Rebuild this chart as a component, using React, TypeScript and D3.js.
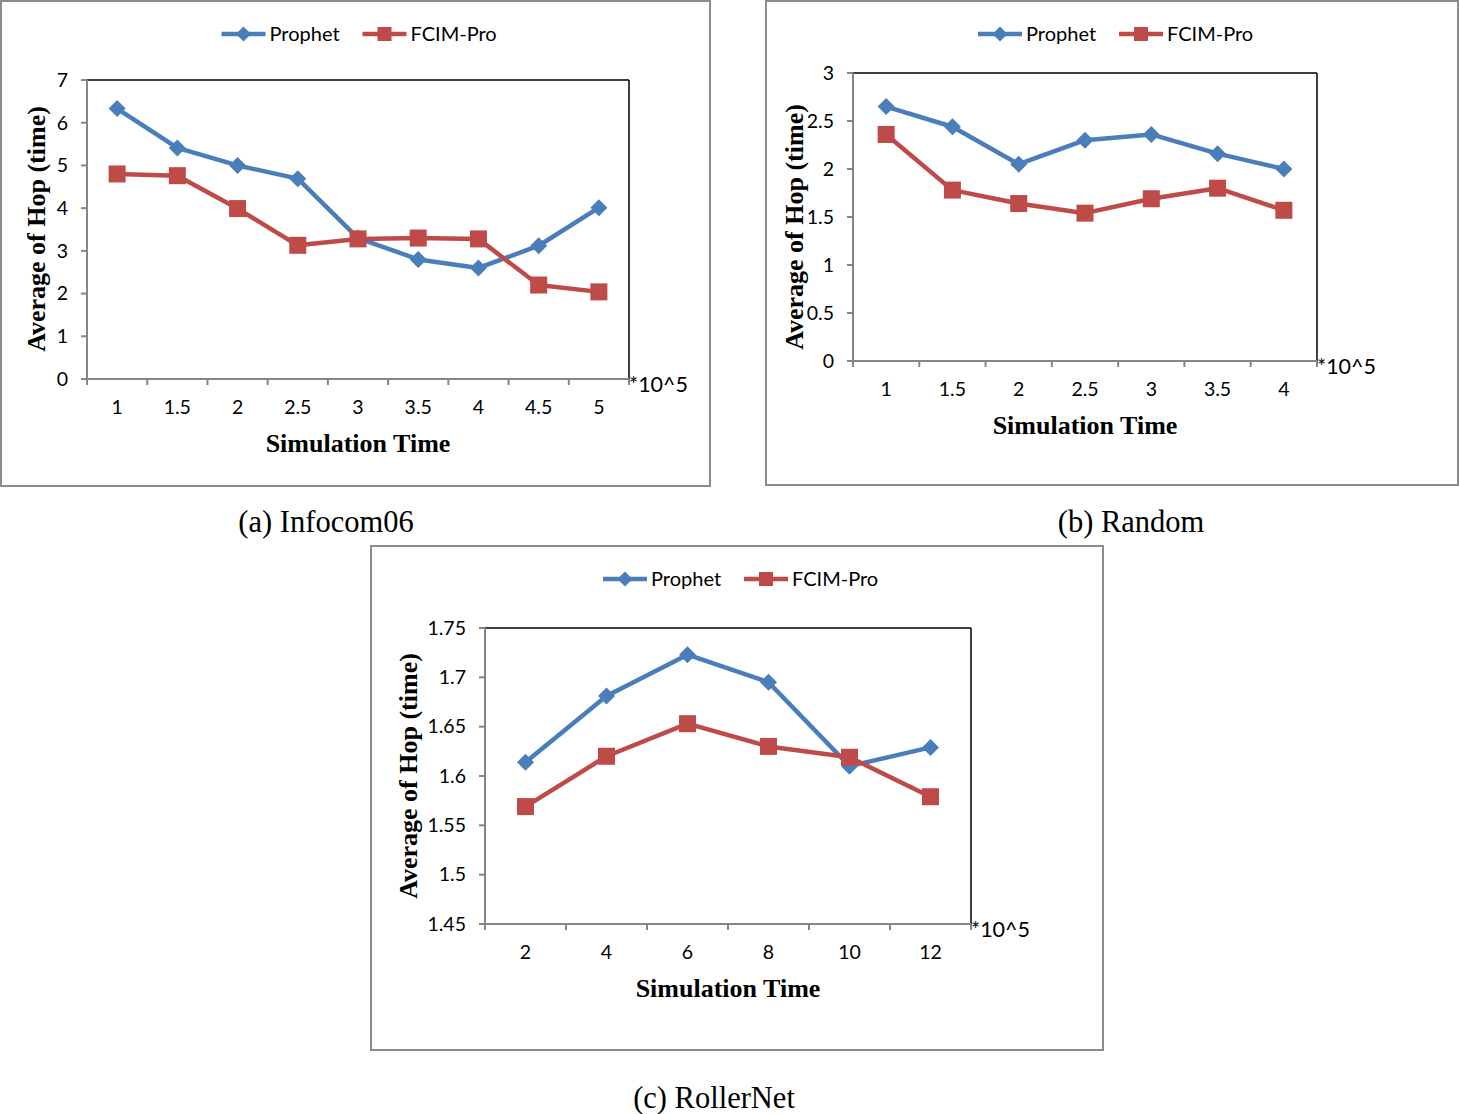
import React from "react";
import * as d3 from "d3";

// ---------- data ----------
const seriesNames = ["Prophet", "FCIM-Pro"];
const seriesColors = ["#4A7EBB", "#BE4B48"];

const catsA = ["1", "1.5", "2", "2.5", "3", "3.5", "4", "4.5", "5"];
const prophetA = [6.33, 5.41, 5.0, 4.69, 3.3, 2.8, 2.6, 3.12, 4.01];
const fcimA = [4.8, 4.76, 3.99, 3.13, 3.28, 3.3, 3.28, 2.2, 2.04];
const yTicksA = [0, 1, 2, 3, 4, 5, 6, 7];

const catsB = ["1", "1.5", "2", "2.5", "3", "3.5", "4"];
const prophetB = [2.65, 2.44, 2.05, 2.3, 2.36, 2.16, 2.0];
const fcimB = [2.36, 1.78, 1.64, 1.54, 1.69, 1.8, 1.57];
const yTicksB = [0, 0.5, 1, 1.5, 2, 2.5, 3];

const catsC = ["2", "4", "6", "8", "10", "12"];
const prophetC = [1.614, 1.681, 1.723, 1.695, 1.61, 1.629];
const fcimC = [1.569, 1.62, 1.653, 1.63, 1.619, 1.579];
const yTicksC = [1.45, 1.5, 1.55, 1.6, 1.65, 1.7, 1.75];

const captions = ["(a) Infocom06", "(b) Random", "(c) RollerNet"];
const xTitle = "Simulation Time";
const yTitle = "Average of Hop (time)";
const unitLabel = "*10^5";

const SANS = "Lato, 'Open Sans', sans-serif";
const SERIF = "'Liberation Serif', 'Times New Roman', serif";

type PanelProps = {
  box: { x: number; y: number; w: number; h: number };
  plot: { l: number; t: number; r: number; b: number };
  cats: string[];
  series: number[][];
  yDomain: [number, number];
  yTicks: number[];
  yTitleX: number;
  yTitleY: number;
  caption: string;
  captionX: number;
  captionY: number;
};

function Panel(p: PanelProps) {
  const x = d3.scaleBand<string>().domain(p.cats).range([p.plot.l, p.plot.r]);
  const y = d3.scaleLinear().domain(p.yDomain).range([p.plot.b, p.plot.t]);
  const line = d3
    .line<number>()
    .x((_, i) => (x(p.cats[i]) as number) + x.bandwidth() / 2)
    .y((d) => y(d));
  const boundaries = p.cats.map((c) => x(c) as number).concat([p.plot.r]);
  const cx = p.box.x + p.box.w / 2;
  const legY = p.box.y + 33;
  const fmt = (v: number) => String(+v.toFixed(2));
  const diamond = (px: number, py: number, s: number) =>
    `M${px},${py - s} L${px + s},${py} L${px},${py + s} L${px - s},${py} Z`;
  return (
    <g>
      <rect x={p.box.x} y={p.box.y} width={p.box.w} height={p.box.h} fill="#fff" stroke="#8c8c8c" strokeWidth={2} />
      {/* legend */}
      <g>
        <line x1={cx - 134} x2={cx - 90} y1={legY} y2={legY} stroke={seriesColors[0]} strokeWidth={4.5} />
        <path d={diamond(cx - 112, legY, 7.5)} fill={seriesColors[0]} />
        <text x={cx - 86} y={legY} dy="0.35em" fontFamily={SANS} fontSize={20} fill="#000">
          {seriesNames[0]}
        </text>
        <line x1={cx + 7} x2={cx + 51} y1={legY} y2={legY} stroke={seriesColors[1]} strokeWidth={4.5} />
        <rect x={cx + 22} y={legY - 7} width={14} height={14} fill={seriesColors[1]} />
        <text x={cx + 55} y={legY} dy="0.35em" fontFamily={SANS} fontSize={20} fill="#000">
          {seriesNames[1]}
        </text>
      </g>
      {/* plot frame top/right */}
      <line x1={p.plot.l} x2={p.plot.r} y1={p.plot.t} y2={p.plot.t} stroke="#000" strokeWidth={1.5} />
      <line x1={p.plot.r} x2={p.plot.r} y1={p.plot.t} y2={p.plot.b} stroke="#000" strokeWidth={1.5} />
      {/* y axis */}
      <line x1={p.plot.l} x2={p.plot.l} y1={p.plot.t} y2={p.plot.b} stroke="#868686" strokeWidth={2} />
      {p.yTicks.map((t) => (
        <g key={t}>
          <line x1={p.plot.l - 6} x2={p.plot.l} y1={y(t)} y2={y(t)} stroke="#868686" strokeWidth={2} />
          <text x={p.plot.l - 19} y={y(t)} dy="0.35em" textAnchor="end" fontFamily={SANS} fontSize={19.5} fill="#000">
            {fmt(t)}
          </text>
        </g>
      ))}
      {/* x axis */}
      <line x1={p.plot.l} x2={p.plot.r} y1={p.plot.b} y2={p.plot.b} stroke="#868686" strokeWidth={2} />
      {boundaries.map((bx, i) => (
        <line key={i} x1={bx} x2={bx} y1={p.plot.b} y2={p.plot.b + 6} stroke="#868686" strokeWidth={2} />
      ))}
      {p.cats.map((c) => (
        <text
          key={c}
          x={(x(c) as number) + x.bandwidth() / 2}
          y={p.plot.b + 28}
          dy="0.35em"
          textAnchor="middle"
          fontFamily={SANS}
          fontSize={19.5}
          fill="#000"
        >
          {c}
        </text>
      ))}
      <text x={p.plot.r} y={p.plot.b + 5} dy="0.35em" fontFamily={SANS} fontSize={21.5} fill="#000">
        {unitLabel}
      </text>
      <text
        x={(p.plot.l + p.plot.r) / 2}
        y={p.plot.b + 64}
        dy="0.35em"
        textAnchor="middle"
        fontFamily={SERIF}
        fontWeight="bold"
        fontSize={26}
        fill="#000"
      >
        {xTitle}
      </text>
      <text
        transform={`translate(${p.yTitleX},${p.yTitleY}) rotate(-90)`}
        dy="0.35em"
        textAnchor="middle"
        fontFamily={SERIF}
        fontWeight="bold"
        fontSize={26}
        fill="#000"
      >
        {yTitle}
      </text>
      {/* series */}
      {p.series.map((s, si) => (
        <g key={si}>
          <path d={line(s) || ""} fill="none" stroke={seriesColors[si]} strokeWidth={4.5} strokeLinejoin="round" />
          {s.map((v, i) => {
            const px = (x(p.cats[i]) as number) + x.bandwidth() / 2;
            const py = y(v);
            return si === 0 ? (
              <path key={i} d={diamond(px, py, 8.5)} fill={seriesColors[si]} />
            ) : (
              <rect key={i} x={px - 8.5} y={py - 8.5} width={17} height={17} fill={seriesColors[si]} />
            );
          })}
        </g>
      ))}
      <text x={p.captionX} y={p.captionY} dy="0.35em" textAnchor="middle" fontFamily={SERIF} fontSize={30.5} fill="#000">
        {p.caption}
      </text>
    </g>
  );
}

export default function App() {
  return (
    <svg width={1459} height={1114} style={{ display: "block", position: "absolute", left: 0, top: 0 }}>
      <rect x={0} y={0} width={1459} height={1114} fill="#fff" />
      <Panel
        box={{ x: 1, y: 1, w: 709, h: 485 }}
        plot={{ l: 87, t: 80, r: 629, b: 379 }}
        cats={catsA}
        series={[prophetA, fcimA]}
        yDomain={[0, 7]}
        yTicks={yTicksA}
        yTitleX={36}
        yTitleY={229}
        caption={captions[0]}
        captionX={326}
        captionY={521}
      />
      <Panel
        box={{ x: 766, y: 1, w: 692, h: 484 }}
        plot={{ l: 853, t: 73, r: 1317, b: 361 }}
        cats={catsB}
        series={[prophetB, fcimB]}
        yDomain={[0, 3]}
        yTicks={yTicksB}
        yTitleX={794}
        yTitleY={227}
        caption={captions[1]}
        captionX={1131}
        captionY={521}
      />
      <Panel
        box={{ x: 371, y: 546, w: 732, h: 504 }}
        plot={{ l: 485, t: 628, r: 971, b: 924 }}
        cats={catsC}
        series={[prophetC, fcimC]}
        yDomain={[1.45, 1.75]}
        yTicks={yTicksC}
        yTitleX={408}
        yTitleY={776}
        caption={captions[2]}
        captionX={714}
        captionY={1097}
      />
    </svg>
  );
}
